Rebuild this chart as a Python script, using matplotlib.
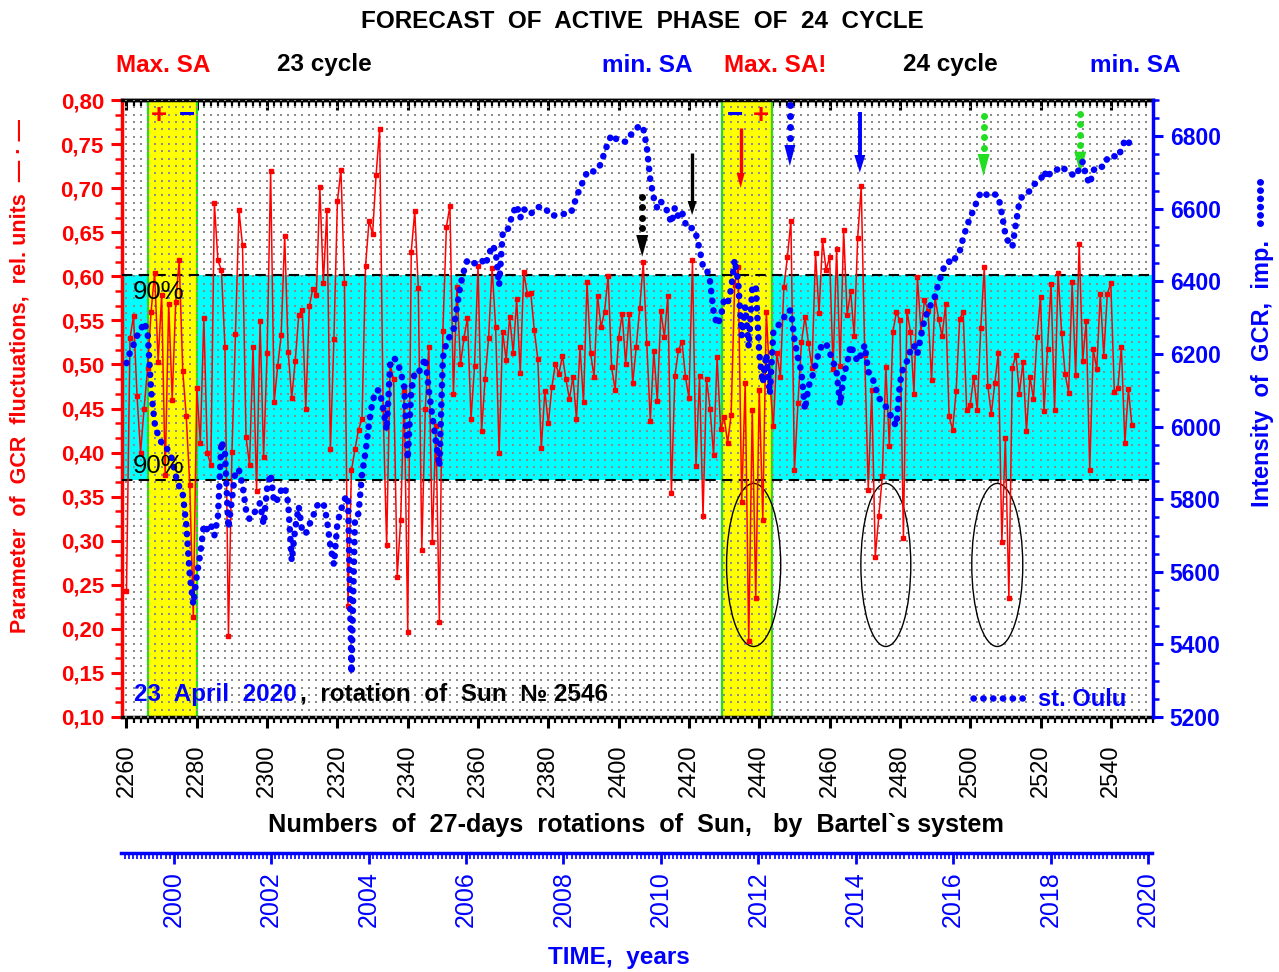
import numpy as np
import matplotlib
matplotlib.use('Agg')
import matplotlib.pyplot as plt
from matplotlib.patches import Ellipse, Polygon
from matplotlib.lines import Line2D
from matplotlib.ticker import MultipleLocator, FuncFormatter

plt.rcParams['font.family'] = ['Liberation Sans', 'DejaVu Sans']

# ---------------- data ----------------
rotations = list(range(2260, 2547))

gcr_param = [
    0.243, 0.530, 0.555, 0.464, 0.400, 0.450, 0.496, 0.560, 0.604, 0.503,
    0.579, 0.374, 0.569, 0.460, 0.571, 0.618, 0.493, 0.441, 0.363, 0.214,
    0.473, 0.411, 0.553, 0.399, 0.386, 0.683, 0.618, 0.607, 0.520, 0.192,
    0.401, 0.535, 0.675, 0.635, 0.418, 0.386, 0.520, 0.356, 0.549, 0.395,
    0.513, 0.719, 0.457, 0.498, 0.533, 0.646, 0.514, 0.462, 0.504, 0.556,
    0.562, 0.449, 0.566, 0.586, 0.579, 0.701, 0.592, 0.675, 0.404, 0.529,
    0.685, 0.721, 0.592, 0.226, 0.380, 0.404, 0.426, 0.438, 0.612, 0.663,
    0.648, 0.715, 0.767, 0.450, 0.295, 0.500, 0.483, 0.259, 0.324, 0.470,
    0.196, 0.628, 0.674, 0.587, 0.290, 0.450, 0.520, 0.298, 0.430, 0.208,
    0.538, 0.656, 0.680, 0.466, 0.588, 0.500, 0.530, 0.553, 0.438, 0.498,
    0.612, 0.424, 0.483, 0.530, 0.609, 0.543, 0.400, 0.537, 0.505, 0.554,
    0.513, 0.574, 0.490, 0.605, 0.580, 0.581, 0.539, 0.506, 0.405, 0.470,
    0.433, 0.474, 0.501, 0.489, 0.510, 0.483, 0.461, 0.486, 0.438, 0.520,
    0.457, 0.593, 0.513, 0.486, 0.578, 0.542, 0.560, 0.600, 0.497, 0.471,
    0.530, 0.557, 0.500, 0.557, 0.479, 0.520, 0.564, 0.616, 0.524, 0.436,
    0.515, 0.458, 0.561, 0.531, 0.578, 0.354, 0.487, 0.516, 0.526, 0.486,
    0.462, 0.618, 0.385, 0.487, 0.328, 0.483, 0.450, 0.397, 0.508, 0.427,
    0.440, 0.411, 0.443, 0.590, 0.610, 0.344, 0.479, 0.186, 0.448, 0.235,
    0.471, 0.324, 0.560, 0.480, 0.430, 0.513, 0.486, 0.588, 0.622, 0.663,
    0.380, 0.456, 0.525, 0.554, 0.524, 0.496, 0.626, 0.558, 0.641, 0.607,
    0.622, 0.495, 0.631, 0.498, 0.652, 0.556, 0.583, 0.532, 0.644, 0.702,
    0.511, 0.358, 0.471, 0.282, 0.328, 0.373, 0.497, 0.407, 0.537, 0.559,
    0.550, 0.303, 0.561, 0.537, 0.467, 0.599, 0.537, 0.573, 0.561, 0.482,
    0.576, 0.552, 0.532, 0.568, 0.441, 0.426, 0.470, 0.551, 0.560, 0.448,
    0.454, 0.486, 0.448, 0.541, 0.610, 0.476, 0.444, 0.479, 0.513, 0.298,
    0.416, 0.235, 0.496, 0.511, 0.467, 0.503, 0.424, 0.486, 0.461, 0.531,
    0.577, 0.447, 0.518, 0.591, 0.448, 0.604, 0.536, 0.489, 0.468, 0.593,
    0.488, 0.637, 0.504, 0.549, 0.380, 0.517, 0.495, 0.580, 0.510, 0.580,
    0.592, 0.469, 0.473, 0.520, 0.411, 0.472, 0.431,
]

oulu = [
    6175, 6205, 6225, 6250, 6265, 6288, 6260, 6100, 6010, 5975,
    5955, 5950, 5930, 5910, 5865, 5835, 5815, 5730, 5590, 5510,
    5590, 5650, 5730, 5715, 5730, 5700, 5750, 5960, 5930, 5720,
    5800, 5880, 5880, 5840, 5770, 5745, 5755, 5775, 5790, 5730,
    5830, 5870, 5790, 5800, 5825, 5835, 5790, 5630, 5720, 5780,
    5710, 5705, 5730, 5750, 5780, 5790, 5790, 5745, 5670, 5620,
    5735, 5770, 5800, 5810, 5320, 5750, 5760, 5870, 5930, 6010,
    6070, 6100, 6100, 6050, 5990, 6170, 6190, 6180, 6150, 6110,
    5910, 6100, 6150, 6148, 6165, 6190, 6100, 6030, 5960, 5890,
    6190, 6230, 6250, 6265, 6330, 6390, 6430, 6460, 6455, 6450,
    6455, 6460, 6445, 6470, 6500, 6485, 6390, 6530, 6530, 6560,
    6590, 6610, 6575, 6600, 6590, 6585, 6600, 6605, 6605, 6604,
    6590, 6580, 6583, 6586, 6586, 6586, 6586, 6600, 6635, 6655,
    6680, 6700, 6708, 6702, 6710, 6725, 6757, 6782, 6805, 6795,
    6787, 6786, 6785, 6800, 6809, 6820, 6831, 6822, 6771, 6680,
    6630, 6601, 6620, 6610, 6590, 6560, 6604, 6578, 6592, 6560,
    6544, 6548, 6530, 6490, 6441, 6436, 6400, 6317, 6280, 6300,
    6350, 6340, 6380, 6460, 6400, 6250, 6330, 6220, 6380, 6390,
    6200, 6120, 6200, 6090, 6260, 6270, 6290, 6300, 6320, 6320,
    6240, 6190, 6150, 6046, 6110, 6135, 6170, 6206, 6229, 6229,
    6205, 6180, 6150, 6060, 6140, 6175, 6225, 6200, 6179, 6200,
    6225, 6151, 6140, 6110, 6080, 6065, 6055, 6040, 6015, 6002,
    6120, 6165, 6180, 6210, 6225, 6200, 6250, 6295, 6320, 6340,
    6360, 6395, 6425, 6450, 6455, 6449, 6470, 6482, 6520, 6550,
    6578, 6597, 6624, 6645, 6647, 6635, 6636, 6640, 6635, 6587,
    6530, 6505, 6495, 6560, 6620, 6638, 6642, 6650, 6667, 6672,
    6679, 6704, 6684, 6704, 6704, 6710, 6718, 6708, 6699, 6695,
    6690, 6710, 6730, 6690, 6668, 6705, 6718, 6716, 6716, 6739,
    6748, 6745, 6741, 6764, 6789, 6778, 6804,
]

rotation_ticks = list(range(2260, 2541, 20))
year_ticks = list(range(2000, 2021, 2))
band_low, band_high = 0.369, 0.601          # 90% corridor
active_phases = [(2266.2, 2280.0), (2429.5, 2443.5)]
minima_ellipses = [(2438.4, 15.4), (2476.0, 14.2), (2507.7, 14.5)]

# ---------------- figure ----------------
W, H = 1279, 972
fig = plt.figure(figsize=(W / 100, H / 100), dpi=100)
fig.patch.set_facecolor('white')


def fx(px):
    return px / W


def fy(py):
    return 1 - py / H


AX_L, AX_R, AX_T, AX_B = 122, 1153, 100, 717
ax = fig.add_axes([fx(AX_L), fy(AX_B), fx(AX_R) - fx(AX_L), fy(AX_T) - fy(AX_B)])
ax.set_xlim(2258.72, 2552.0)
ax.set_ylim(0.10, 0.80)
ax.set_facecolor('white')

PX_PER_ROT = (AX_R - AX_L) / (2552.0 - 2258.72)
PX_PER_VAL = (AX_B - AX_T) / 0.70

CYAN, YELLOW, GREEN = '#00ffff', '#ffff00', '#22dd22'
RED, BLUE = '#ff0000', '#0000ff'

# corridor and active phase bands
ax.axhspan(band_low, band_high, color=CYAN, zorder=1, lw=0)
for a, b in active_phases:
    ax.axvspan(a, b, color=YELLOW, zorder=2, lw=0)
    ax.axvline(a, color=GREEN, lw=1.6, zorder=2.5)
    ax.axvline(b, color=GREEN, lw=1.6, zorder=2.5)

# dotted background grid
gx, gy = np.meshgrid(np.arange(2260, 2553, 2), np.arange(0.10, 0.8001, 0.05 / 6))
ax.scatter(gx.ravel(), gy.ravel(), s=1.6, marker='s', color='#8c8c8c', lw=0, zorder=3)

ax.axhline(band_high, color='black', lw=1.5, ls=(0, (5, 3)), zorder=4)
ax.axhline(band_low, color='black', lw=1.5, ls=(0, (5, 3)), zorder=4)

# ellipses around deep minima
for cx, w in minima_ellipses:
    ax.add_patch(Ellipse((cx, 0.2725), w, 0.185, fill=False, ec='black', lw=1.0, zorder=4.5))

# GCR fluctuation parameter
ax.plot(rotations, gcr_param, color=RED, lw=1.1, marker='s', ms=3.2, zorder=5)

# ---------------- arrows ----------------
def yv(py):
    return 0.10 + (AX_B - py) / PX_PER_VAL


def head(x, top_px, tip_px, half_px, color):
    dx = half_px / PX_PER_ROT
    ax.add_patch(Polygon([(x - dx, yv(top_px)), (x + dx, yv(top_px)), (x, yv(tip_px))],
                         closed=True, color=color, zorder=7, lw=0))


def solid_arrow(x, tail_px, top_px, tip_px, half_px, lw, color):
    ax.plot([x, x], [yv(tail_px), yv(top_px + 1)], color=color, lw=lw, zorder=7,
            solid_capstyle='butt')
    head(x, top_px, tip_px, half_px, color)


def dotted_arrow(x, dots_px, top_px, tip_px, half_px, color):
    ax.plot([x] * len(dots_px), [yv(p) for p in dots_px], 'o', color=color, ms=5,
            mew=0, zorder=7)
    head(x, top_px, tip_px, half_px, color)


dotted_arrow(2406.7, [196.7, 207, 217.5, 228], 235, 256.7, 6, 'black')
solid_arrow(2420.9, 153, 201, 215, 4.5, 2.4, 'black')
solid_arrow(2434.7, 128, 173, 188, 4, 2.4, RED)
dotted_arrow(2448.7, [105, 116, 127, 138], 145, 166, 5.5, BLUE)
solid_arrow(2468.6, 111.7, 155, 172.7, 5.5, 2.8, BLUE)
dotted_arrow(2503.8, [116, 127, 137, 148], 154, 176, 6, GREEN)
dotted_arrow(2531.3, [114, 124, 135, 145], 151.7, 173.3, 6, GREEN)

# ---------------- left axis styling ----------------
ax.spines['left'].set_color(RED)
ax.spines['left'].set_linewidth(2.5)
ax.spines['top'].set_linewidth(2.5)
ax.spines['bottom'].set_linewidth(2.5)
ax.spines['right'].set_visible(False)

ax.yaxis.set_major_locator(MultipleLocator(0.05))
ax.yaxis.set_minor_locator(MultipleLocator(0.05 / 3))
ax.yaxis.set_major_formatter(FuncFormatter(lambda v, p: f'{v:.2f}'.replace('.', ',')))
ax.tick_params(axis='y', which='major', colors=RED, direction='out', length=8, width=2.2,
               labelsize=16, pad=5)
ax.tick_params(axis='y', which='minor', colors=RED, direction='out', length=5, width=1.8)
for t in ax.get_yticklabels():
    t.set_fontweight('bold')

ax.set_xticks(rotation_ticks)
ax.xaxis.set_minor_locator(MultipleLocator(2))
ax.tick_params(axis='x', which='major', direction='out', length=8, width=2.2,
               labelsize=17, labelrotation=90, pad=12)
ax.tick_params(axis='x', which='minor', direction='out', length=4.5, width=1.6)

top = ax.secondary_xaxis('top')
top.set_xticks(rotation_ticks)
top.xaxis.set_minor_locator(MultipleLocator(2))
top.tick_params(axis='x', which='major', direction='in', length=7, width=2.2, labeltop=False)
top.tick_params(axis='x', which='minor', direction='in', length=4, width=1.6)
top.spines['top'].set_linewidth(2.5)

# ---------------- right axis (Oulu) ----------------
axr = ax.twinx()
axr.set_ylim(5200, 6900)
axr.plot(rotations, oulu, color=BLUE, lw=4.7, ls=(0, (0.05, 1.45)),
         dash_capstyle='round', zorder=6)
for s in ['left', 'top', 'bottom']:
    axr.spines[s].set_visible(False)
axr.spines['right'].set_color(BLUE)
axr.spines['right'].set_linewidth(2.5)
axr.yaxis.set_major_locator(MultipleLocator(200))
axr.yaxis.set_minor_locator(MultipleLocator(50))
axr.tick_params(axis='y', which='major', colors=BLUE, direction='out', length=7, width=2.2,
                labelsize=16.5, pad=5)
axr.tick_params(axis='y', which='minor', colors=BLUE, direction='out', length=4.5, width=1.8)
for t in axr.get_yticklabels():
    t.set_fontweight('bold')

leg_handle = Line2D([], [], color=BLUE, lw=4.7, ls=(0, (0.05, 1.45)), dash_capstyle='round')
axr.legend([leg_handle], ['st. Oulu'], loc='lower right', frameon=False,
           bbox_to_anchor=(fx(1126), fy(711)), bbox_transform=fig.transFigure,
           handlelength=2.4, handletextpad=0.35, borderpad=0, borderaxespad=0,
           prop={'weight': 'bold', 'size': 17}, labelcolor=BLUE)

# ---------------- year axis ----------------
yax = fig.add_axes([fx(121), fy(853), fx(1152) - fx(121), 0.0001])
yax.set_xlim(1998.92, 2020.08)
yax.set_ylim(0, 1)
yax.patch.set_visible(False)
for s in ['left', 'right', 'top']:
    yax.spines[s].set_visible(False)
yax.spines['bottom'].set_color(BLUE)
yax.spines['bottom'].set_linewidth(2.5)
yax.set_yticks([])
yax.set_xticks(year_ticks)
yax.xaxis.set_minor_locator(MultipleLocator(1 / 12))
yax.tick_params(axis='x', which='major', colors=BLUE, direction='out', length=8, width=2,
                labelsize=18, labelrotation=90, pad=5)
yax.tick_params(axis='x', which='minor', colors=BLUE, direction='out', length=4, width=1.2)

# ---------------- texts ----------------
fig.text(fx(642), fy(22), 'FORECAST  OF  ACTIVE  PHASE  OF  24  CYCLE', ha='center',
         va='center', fontsize=17.5, fontweight='bold', color='black')
header = [(163, 'Max. SA', RED), (324, '23 cycle', 'black'), (647, 'min. SA', BLUE),
          (775, 'Max. SA!', RED), (950, '24 cycle', 'black'), (1135, 'min. SA', BLUE)]
for px, txt, col in header:
    fig.text(fx(px), fy(65), txt, ha='center', va='center', fontsize=17.5,
             fontweight='bold', color=col)

fig.text(fx(636), fy(825), 'Numbers  of  27-days  rotations  of  Sun,   by  Bartel`s system',
         ha='center', va='center', fontsize=18.2, fontweight='bold', color='black')
fig.text(fx(619), fy(957), 'TIME,  years', ha='center', va='center', fontsize=17.5,
         fontweight='bold', color=BLUE)

fig.text(fx(20), fy(376), 'Parameter  of  GCR  fluctuations,  rel. units  — · —',
         rotation=90, ha='center', va='center', fontsize=15.5, fontweight='bold', color=RED)
fig.text(fx(1262), fy(342), 'Intensity  of  GCR,  imp.  ••••••', rotation=90,
         ha='center', va='center', fontsize=17, fontweight='bold', color=BLUE)

fig.text(fx(134), fy(694), '23  April  2020', ha='left', va='center', fontsize=17.5,
         fontweight='bold', color=BLUE)
fig.text(fx(300), fy(694), ',  rotation  of  Sun  № 2546', ha='left', va='center',
         fontsize=17.5, fontweight='bold', color='black')

fig.text(fx(133), fy(292), '90%', ha='left', va='center', fontsize=18.5, color='black')
fig.text(fx(133), fy(466), '90%', ha='left', va='center', fontsize=18.5, color='black')

for px, txt, col in [(159, '+', RED), (187, '−', BLUE), (735, '−', BLUE), (761, '+', RED)]:
    fig.text(fx(px), fy(116), txt, ha='center', va='center', fontsize=20,
             fontweight='bold', color=col)

fig.savefig('out.png', dpi=100)
